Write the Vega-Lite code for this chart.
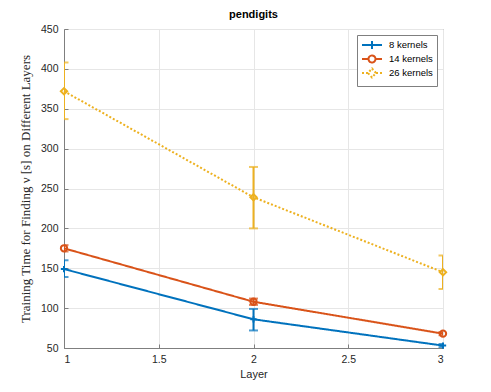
{
  "$schema": "https://vega.github.io/schema/vega-lite/v6.json",
  "width": 379,
  "height": 319,
  "autosize": "none",
  "padding": {"left": 64, "top": 29, "right": 48, "bottom": 44},
  "background": "white",
  "title": {"text": "pendigits", "font": "Liberation Sans", "fontSize": 11, "fontWeight": "bold", "color": "#000000", "offset": 4},
  "config": {
    "view": {"stroke": "#7f7f7f", "strokeWidth": 1},
    "axis": {
      "labelFont": "Liberation Sans", "labelFontSize": 10.5, "labelColor": "#262626", "labelOverlap": false,
      "titleFont": "Liberation Sans", "titleFontSize": 11, "titleColor": "#262626", "titleFontWeight": "normal",
      "domainColor": "#7f7f7f", "tickColor": "#7f7f7f", "tickSize": -4, "tickCount": 20,
      "gridColor": "#e6e6e6", "gridWidth": 1
    }
  },
  "data": {"values": [
    {"series": "8 kernels", "layer": 1, "value": 149, "low": 139, "high": 160},
    {"series": "8 kernels", "layer": 2, "value": 86, "low": 72, "high": 99},
    {"series": "8 kernels", "layer": 3, "value": 53, "low": 51, "high": 55},
    {"series": "14 kernels", "layer": 1, "value": 175, "low": 171, "high": 179},
    {"series": "14 kernels", "layer": 2, "value": 108, "low": 104, "high": 112},
    {"series": "14 kernels", "layer": 3, "value": 68, "low": 66, "high": 70},
    {"series": "26 kernels", "layer": 1, "value": 372, "low": 337, "high": 408},
    {"series": "26 kernels", "layer": 2, "value": 239, "low": 200, "high": 277},
    {"series": "26 kernels", "layer": 3, "value": 145, "low": 124, "high": 166}
  ]},
  "encoding": {
    "x": {"field": "layer", "type": "quantitative",
      "scale": {"domain": [1, 3], "nice": false, "zero": false},
      "axis": {"title": "Layer", "values": [1, 1.5, 2, 2.5, 3], "format": "~g", "labelPadding": 10, "titlePadding": 4}},
    "color": {"field": "series", "type": "nominal",
      "scale": {"domain": ["8 kernels", "14 kernels", "26 kernels"], "range": ["#0072BD", "#D95319", "#EDB120"]},
      "legend": {
        "title": null, "orient": "top-right", "offset": 6,
        "fillColor": "white", "strokeColor": "#7f7f7f", "padding": 4,
        "labelFont": "Liberation Sans", "labelFontSize": 9.5, "labelColor": "#000000",
        "symbolSize": 100, "symbolOffset": 5, "labelOffset": 11, "rowPadding": -9,
        "symbolFillColor": "transparent",
        "encode": {"symbols": {"update": {
          "shape": {"signal": "datum.value === '8 kernels' ? 'M-2,0H2M0,-0.8V0.8' : datum.value === '14 kernels' ? 'M-2,0H-0.7A0.7,0.7 0 1,1 0.7,0A0.7,0.7 0 1,1 -0.7,0M0.7,0H2' : 'M-2,0H-0.8L0,-0.9L0.8,0L0,0.9L-0.8,0M0.8,0H2'"},
          "strokeDash": {"signal": "datum.value === '26 kernels' ? [2, 2] : [1, 0]"},
          "fill": {"value": "transparent"},
          "fillOpacity": {"value": 0},
          "stroke": {"scale": "color", "field": "value"},
          "strokeWidth": {"value": 2},
          "opacity": {"value": 1}
        }}}
      }}
  },
  "layer": [
    {
      "mark": {"type": "errorbar", "ticks": {"size": 9}, "thickness": 2, "clip": true},
      "encoding": {
        "y": {"field": "low", "type": "quantitative", "scale": {"domain": [50, 450], "nice": false, "zero": false},
          "axis": {"title": "Training Time for Finding ν [s] on Different Layers", "titleFont": "Liberation Serif", "titleFontSize": 13,
            "values": [50, 100, 150, 200, 250, 300, 350, 400, 450], "labelPadding": 10, "titlePadding": 8}},
        "y2": {"field": "high"}
      }
    },
    {
      "mark": {"type": "line", "strokeWidth": 2},
      "encoding": {
        "y": {"field": "value", "type": "quantitative"},
        "strokeDash": {"field": "series", "type": "nominal",
          "scale": {"domain": ["8 kernels", "14 kernels", "26 kernels"], "range": [[1, 0], [1, 0], [2, 2]]},
          "legend": null}
      }
    },
    {
      "transform": [{"filter": "datum.series === '8 kernels'"}],
      "mark": {"type": "point", "filled": false, "strokeWidth": 2, "size": 40, "opacity": 1, "shape": "M-1,0H1M0,-1V1"},
      "encoding": {"y": {"field": "value", "type": "quantitative"}}
    },
    {
      "transform": [{"filter": "datum.series === '14 kernels'"}],
      "mark": {"type": "point", "filled": false, "strokeWidth": 2, "size": 40, "opacity": 1, "shape": "circle"},
      "encoding": {"y": {"field": "value", "type": "quantitative"}}
    },
    {
      "transform": [{"filter": "datum.series === '26 kernels'"}],
      "mark": {"type": "point", "filled": false, "strokeWidth": 2, "size": 40, "opacity": 1, "shape": "diamond"},
      "encoding": {"y": {"field": "value", "type": "quantitative"}}
    }
  ]
}
